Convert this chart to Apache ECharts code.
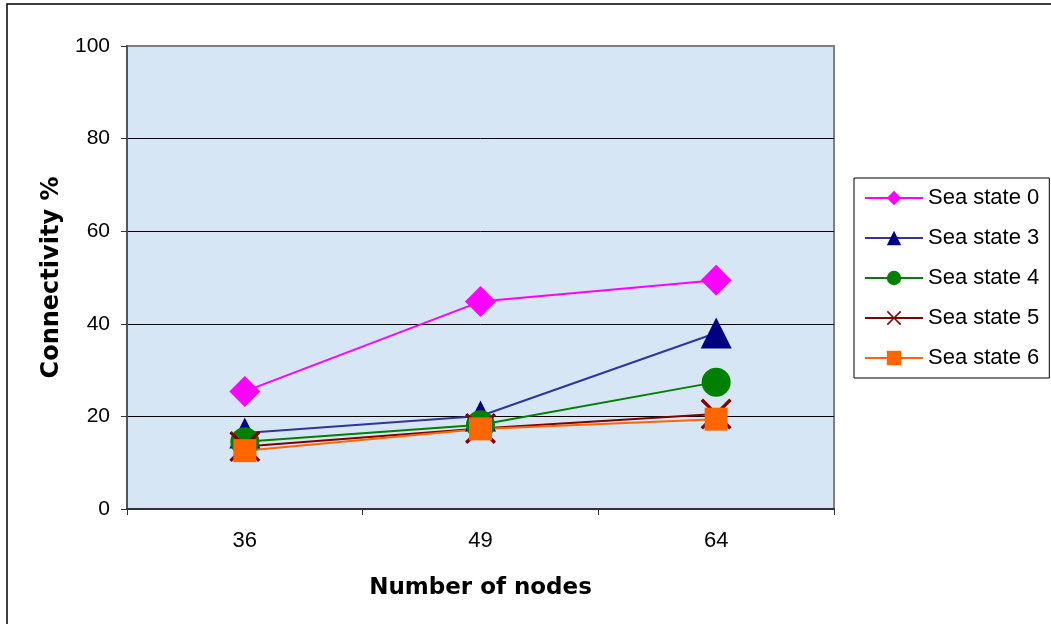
<!DOCTYPE html>
<html>
<head>
<meta charset="utf-8">
<title>Connectivity vs number of nodes</title>
<script src="https://cdn.jsdelivr.net/npm/echarts@6/dist/echarts.min.js"></script>
<style>
  html, body { margin: 0; padding: 0; background: #fff; }
  #chart { width: 1051px; height: 624px; }
</style>
</head>
<body>
<div id="chart"></div>
<script>
// 数据
const categories = ['36', '49', '64'];
const seaState0 = [25.4, 44.8, 49.4];
const seaState3 = [16.4, 20.1, 38.0];
const seaState4 = [14.5, 18.2, 27.4];
const seaState5 = [13.5, 17.4, 20.5];
const seaState6 = [12.6, 17.3, 19.4];
const yTicks = [0, 20, 40, 60, 80, 100];

// X 形状（填充多边形）
const crossPath = 'path://M0,1.5L1.5,0L10,8.5L18.5,0L20,1.5L11.5,10L20,18.5L18.5,20L10,11.5L1.5,20L0,18.5L8.5,10Z';

function makeSeries(name, data, symbol, size, lineColor, markColor) {
  return {
    name: name,
    type: 'line',
    data: data,
    symbol: symbol,
    symbolSize: size,
    showAllSymbol: true,
    lineStyle: { color: lineColor, width: 2 },
    itemStyle: { color: markColor, borderWidth: 0 },
    emphasis: { disabled: true },
    animation: false
  };
}

const chart = echarts.init(document.getElementById('chart'));
chart.setOption({
  animation: false,
  graphic: [
    {
      type: 'rect',
      shape: { x: 7, y: 4, width: 1200, height: 800 },
      style: { fill: 'none', stroke: '#000', lineWidth: 1.5 },
      z: 0
    }
  ],
  grid: {
    left: 127,
    right: 217,
    top: 46,
    bottom: 115,
    show: true,
    backgroundColor: '#d6e6f5',
    borderColor: '#808080',
    borderWidth: 2
  },
  legend: {
    orient: 'vertical',
    left: 854,
    top: 178,
    padding: [9, 10, 9, 10],
    itemWidth: 58,
    itemHeight: 18,
    itemGap: 18,
    backgroundColor: '#fff',
    borderColor: '#000',
    borderWidth: 1,
    textStyle: {
      color: '#000',
      fontSize: 22,
      lineHeight: 22,
      fontFamily: 'Liberation Sans, Arial, sans-serif'
    },
    data: ['Sea state 0', 'Sea state 3', 'Sea state 4', 'Sea state 5', 'Sea state 6']
  },
  xAxis: {
    type: 'category',
    data: categories,
    boundaryGap: true,
    name: 'Number of nodes',
    nameLocation: 'middle',
    nameGap: 68,
    nameTextStyle: {
      color: '#000',
      fontSize: 23,
      fontWeight: 'bold',
      fontFamily: 'DejaVu Sans, Verdana, sans-serif'
    },
    axisLine: { lineStyle: { color: '#333', width: 2 } },
    axisTick: { show: true, length: 6, lineStyle: { color: '#333' } },
    axisLabel: {
      color: '#000',
      fontSize: 22,
      margin: 21,
      fontFamily: 'Liberation Sans, Arial, sans-serif'
    },
    splitLine: { show: false }
  },
  yAxis: {
    type: 'value',
    min: 0,
    max: 100,
    interval: 20,
    name: 'Connectivity %',
    nameLocation: 'middle',
    nameRotate: 90,
    nameGap: 63,
    nameTextStyle: {
      color: '#000',
      fontSize: 24,
      fontWeight: 'bold',
      fontFamily: 'DejaVu Sans, Verdana, sans-serif'
    },
    axisLine: { show: true, lineStyle: { color: '#555', width: 2 } },
    axisTick: { show: true, length: 6, lineStyle: { color: '#333' } },
    axisLabel: {
      color: '#000',
      fontSize: 21,
      margin: 17,
      fontFamily: 'Liberation Sans, Arial, sans-serif',
      formatter: function (v) { return yTicks.indexOf(v) >= 0 ? String(v) : ''; }
    },
    splitLine: {
      show: true,
      lineStyle: { color: ['#000', '#000', '#000', '#000', '#000', '#808080'], width: 1 }
    }
  },
  series: [
    makeSeries('Sea state 0', seaState0, 'diamond', 31, '#ff00ff', '#ff00ff'),
    makeSeries('Sea state 3', seaState3, 'triangle', 31, '#333399', '#000080'),
    makeSeries('Sea state 4', seaState4, 'circle', 29, '#008000', '#008000'),
    makeSeries('Sea state 5', seaState5, crossPath, 31, '#800000', '#800000'),
    makeSeries('Sea state 6', seaState6, 'rect', 23, '#ff6600', '#ff6600')
  ]
});
</script>
</body>
</html>
